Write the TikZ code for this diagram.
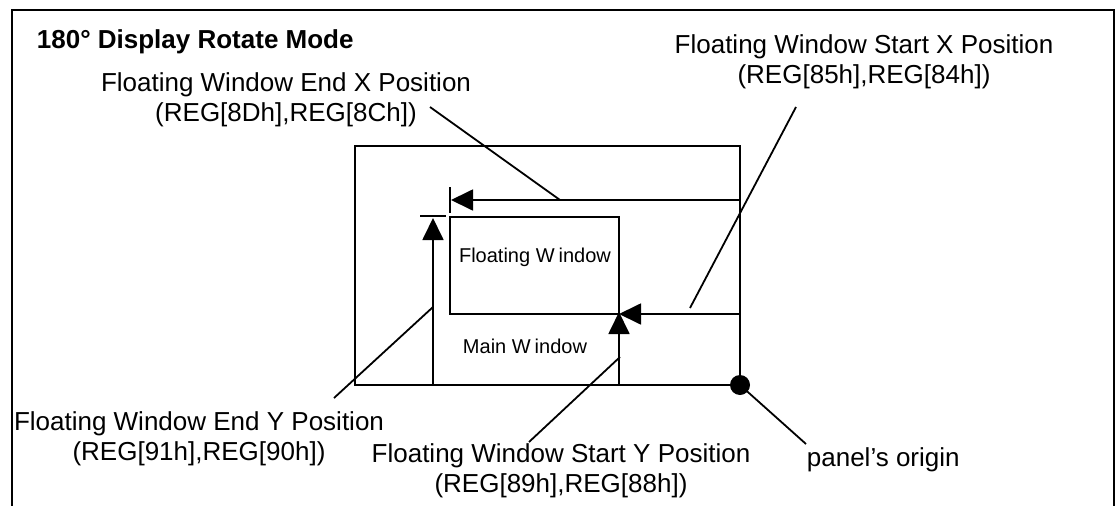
\documentclass[tikz,border=0pt]{standalone}
\usepackage{fontspec}
\setmainfont{Liberation Sans}
\usetikzlibrary{arrows.meta}
\begin{document}
\begin{tikzpicture}[x=1pt,y=-1pt, line width=1.8pt,
  lbl/.style={font=\fontsize{26}{30}\selectfont, inner sep=0pt, align=center},
  ttl/.style={font=\fontsize{26}{30}\selectfont\bfseries, inner sep=0pt},
  small/.style={font=\fontsize{20}{24}\selectfont, inner sep=0pt},
  box/.style={draw, inner sep=0pt, outer sep=0pt, anchor=north west},
  arr/.style={-{Triangle[length=22pt,width=21pt]}},
  leader/.style={line width=1.8pt}]
\useasboundingbox (0,0) rectangle (1117,506);
\clip (0,0) rectangle (1117,506);
% frame
\draw (12,520) -- (12,10) -- (1114,10) -- (1114,520);
\node[ttl, anchor=base west] (title) at (36,48) {180° Display Rotate Mode};
% windows
\node[box, minimum width=385pt, minimum height=239pt] (main) at (355,146) {};
\node[box, minimum width=169pt, minimum height=97pt] (float) at (450,217) {};
\node[small, anchor=base] (ftext) at (535,262) {Floating W\kern4pt indow};
\node[small, anchor=base] (mtext) at (525,353) {Main W\kern4pt indow};
% dimension arrows
\draw[arr] (main.east |- 0,200) -- ([xshift=1pt]float.west |- 0,200);
\draw (float.west |- 0,187) -- (float.west |- 0,213);
\draw[arr] (433,0 |- main.south) -- (433,0 |- 0,218);
\draw (420,216) -- (446,216);
\draw[arr] (main.east |- float.south) -- (float.south east);
\draw[arr] (float.south east |- main.south) -- ([yshift=2pt]float.south east);
\node[circle, fill, minimum size=20pt, inner sep=0pt] (origin) at (main.south east) {};
% labels (base anchor = baseline of the last line)
\node[lbl, anchor=base] (endx) at (286,121) {Floating Window End X Position\\(REG[8Dh],REG[8Ch])};
\node[lbl, anchor=base] (startx) at (864,83) {Floating Window Start X Position\\(REG[85h],REG[84h])};
\node[lbl, anchor=base] (endy) at (199,460) {Floating Window End Y Position\\(REG[91h],REG[90h])};
\node[lbl, anchor=base] (starty) at (561,492) {Floating Window Start Y Position\\(REG[89h],REG[88h])};
\node[lbl, anchor=base west] (porig) at (806,466) {panel’s origin};
% leaders
\coordinate (ex1) at (430,107);
\coordinate (ex2) at (560,200);
\draw[leader] (ex1) -- (ex2);
\coordinate (sx1) at (796,107);
\coordinate (sx2) at (690,308);
\draw[leader] (sx1) -- (sx2);
\coordinate (ey1) at (334,398);
\coordinate (ey2) at (433,307);
\draw[leader] (ey1) -- (ey2);
\coordinate (sy1) at (529,442);
\coordinate (sy2) at (620,357);
\draw[leader] (sy1) -- (sy2);
\coordinate (po2) at (806,444);
\draw[leader] (origin.center) -- (po2);
\end{tikzpicture}
\end{document}
